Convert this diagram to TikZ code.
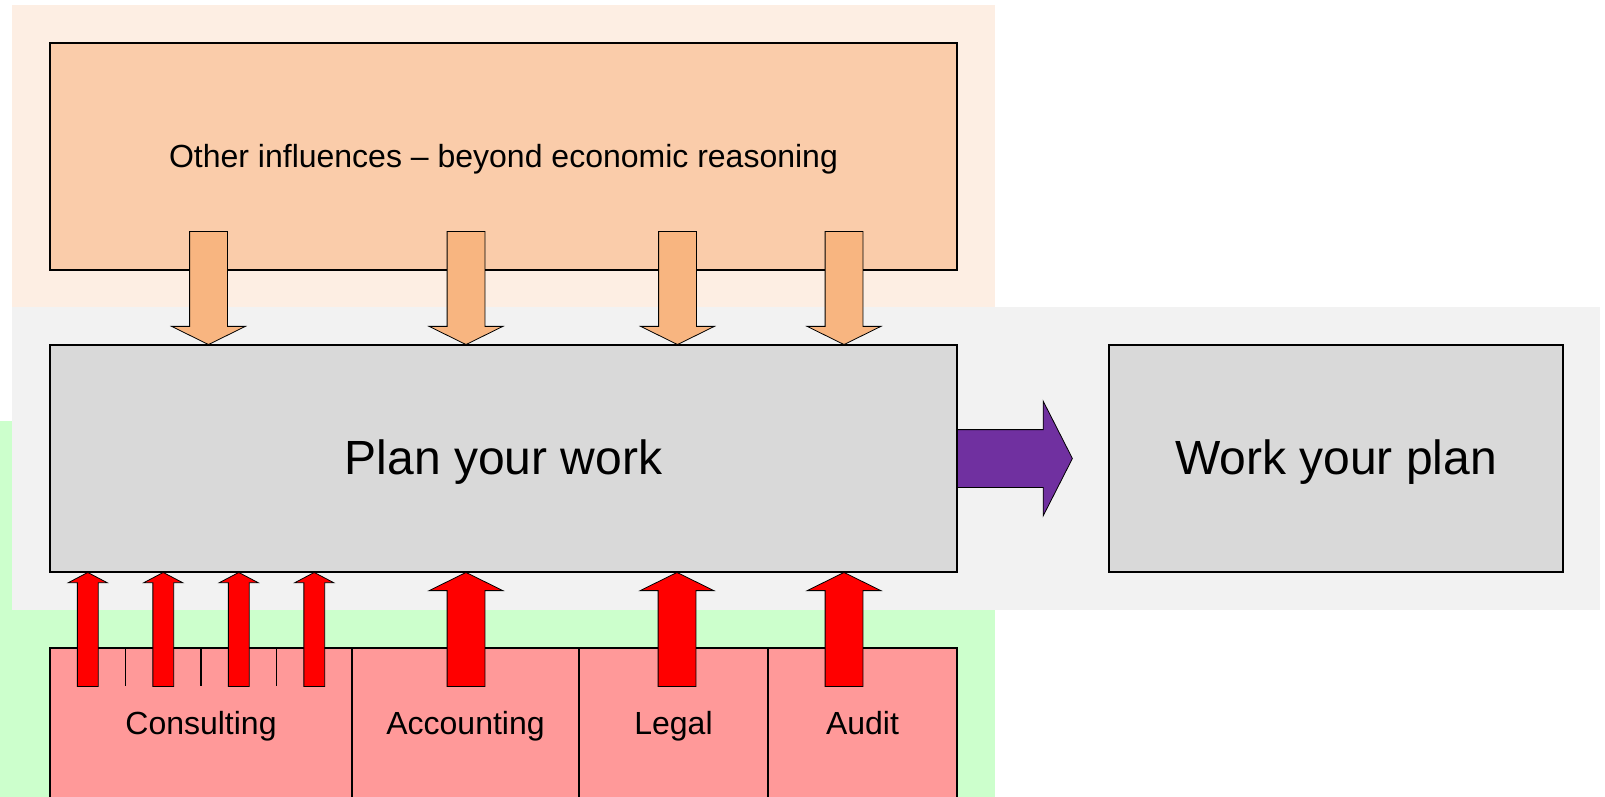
\documentclass[tikz,border=0pt]{standalone}
\usepackage{fontspec}
\setmainfont{Liberation Sans}
\usetikzlibrary{positioning,shapes.arrows}
\definecolor{peachbg}{RGB}{253,238,227}
\definecolor{peachbox}{RGB}{250,204,170}
\definecolor{peacharrow}{RGB}{248,181,128}
\definecolor{greybg}{RGB}{242,242,242}
\definecolor{greybox}{RGB}{217,217,217}
\definecolor{greenbg}{RGB}{204,255,204}
\definecolor{pinkbox}{RGB}{255,153,153}
\definecolor{purplearrow}{RGB}{112,48,160}
\tikzset{
    %Define style for boxes
    block/.style={
           rectangle,
           draw=black, line width=1.5pt,
           inner sep=0pt, outer sep=0pt,
           text centered},
    smalltext/.style={font=\fontsize{32}{38}\selectfont, text height=27pt, text depth=5pt},
    bigtext/.style={font=\fontsize{48}{58}\selectfont, text height=38pt, text depth=7pt},
    % Define block arrow styles
    fat/.style={
           single arrow,
           draw=black, line width=0.8pt,
           inner xsep=0pt,
           single arrow head indent=0pt},
    downpil/.style={fat, fill=peacharrow, rotate=-90,
           minimum height=113pt, inner ysep=18.5pt,
           single arrow head extend=18pt, single arrow tip angle=127.5},
    uppil/.style={fat, fill=red, rotate=90,
           minimum height=114pt, inner ysep=18.5pt,
           single arrow head extend=18pt, single arrow tip angle=127.5},
    thinpil/.style={uppil, inner ysep=10pt,
           single arrow head extend=9pt, single arrow tip angle=124.5},
    nextpil/.style={fat, fill=purplearrow,
           minimum height=115pt, inner ysep=28.5pt,
           single arrow head extend=28.5pt, single arrow tip angle=126}
}
\begin{document}
\begin{tikzpicture}[x=1pt,y=-1pt]
\useasboundingbox (0,0) rectangle (1605,797);
\clip (0,0) rectangle (1605,797);
% background areas
\fill[greenbg] (0,421) rectangle (995,797);
\fill[greybg] (12,307) rectangle (1600,610);
\fill[peachbg] (12,5) rectangle (995,307);
% boxes
\node[block, smalltext, fill=peachbox, minimum width=907pt, minimum height=227pt] (infl) at (503.5,156.5) {Other influences -- beyond economic reasoning};
\node[block, bigtext, fill=greybox, minimum width=907pt, minimum height=227pt, below=75pt of infl] (plan) {Plan your work};
\node[block, bigtext, fill=greybox, minimum width=454pt, minimum height=227pt, right=152pt of plan] (work) {Work your plan};
\node[block, smalltext, fill=pinkbox, minimum width=302pt, minimum height=150pt] (cons) at (201,723) {Consulting};
\node[block, smalltext, fill=pinkbox, minimum width=227pt, minimum height=150pt, right=0pt of cons] (acc) {Accounting};
\node[block, smalltext, fill=pinkbox, minimum width=189pt, minimum height=150pt, right=0pt of acc] (legal) {Legal};
\node[block, smalltext, fill=pinkbox, minimum width=189pt, minimum height=150pt, right=0pt of legal] (audit) {Audit};
\foreach \i in {1,2,3}
    \draw[line width=1.5pt] ([xshift={75.5pt*\i}]cons.north west) -- ++(0,38);
% arrows
\foreach \x [count=\i] in {208.5,466,677.5,844}
    \node[downpil, anchor=tip] (ipil\i) at (\x,0 |- plan.north) {};
\foreach \x [count=\i] in {466,677,844}
    \node[uppil, anchor=tip] (spil\i) at (\x,0 |- plan.south) {};
\foreach \i in {0,...,3}
    \node[thinpil, anchor=tip] (cpil\i) at ([xshift={37.75pt+75.5pt*\i}]plan.south west) {};
\node[nextpil, anchor=tail] (next) at (plan.east) {};
\end{tikzpicture}
\end{document}
